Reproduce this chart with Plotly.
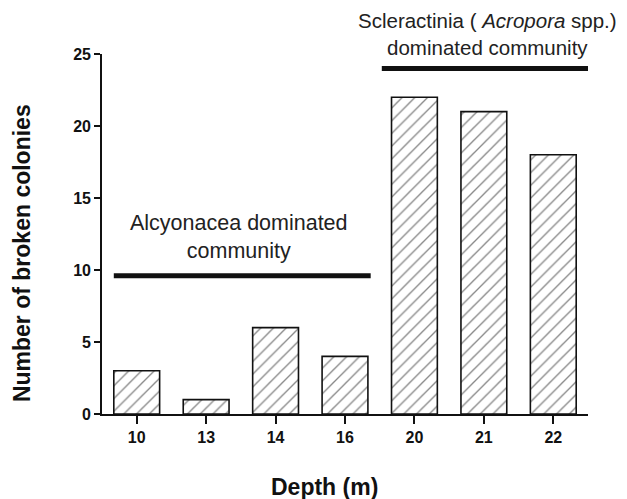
import plotly.graph_objects as go

depths = ["10", "13", "14", "16", "20", "21", "22"]
broken = [3, 1, 6, 4, 22, 21, 18]

alcy_span = [-0.33, 3.37]
alcy_level = 9.6
scler_span = [3.53, 6.62]
scler_level = 24.0

font = "Liberation Sans, Arial, Helvetica, sans-serif"

fig = go.Figure()
fig.add_trace(go.Bar(
    x=depths, y=broken, width=0.66,
    marker=dict(color="white",
                line=dict(color="#111", width=1.6),
                pattern=dict(shape="/", fgcolor="#111", bgcolor="white", size=9, solidity=0.15)),
    showlegend=False,
))

fig.add_shape(type="line", xref="x", yref="y", x0=alcy_span[0], x1=alcy_span[1],
              y0=alcy_level, y1=alcy_level, line=dict(color="#111", width=5))
fig.add_shape(type="line", xref="x", yref="y", x0=scler_span[0], x1=scler_span[1],
              y0=scler_level, y1=scler_level, line=dict(color="#111", width=5))

fig.add_annotation(x=(alcy_span[0] + alcy_span[1]) / 2 - 0.05, y=alcy_level, xref="x", yref="y",
                   text="Alcyonacea dominated<br>community", showarrow=False, borderpad=0,
                   yanchor="bottom", yshift=12, font=dict(family=font, size=21.5, color="#222"))
fig.add_annotation(x=(scler_span[0] + scler_span[1]) / 2 - 0.02, y=scler_level, xref="x", yref="y",
                   text="Scleractinia ( <i>Acropora</i> spp.)<br>dominated community", showarrow=False,
                   borderpad=0, yanchor="bottom", yshift=8, font=dict(family=font, size=20.5, color="#222"))

# axis titles
fig.add_annotation(x=0.457, y=-0.203, xref="paper", yref="paper", showarrow=False,
                   text="<b>Depth (m)</b>", font=dict(family=font, size=23, color="#111"),
                   xanchor="center", yanchor="middle")
fig.add_annotation(x=-0.1646, y=0.447, xref="paper", yref="paper", showarrow=False, textangle=-90,
                   text="<b>Number of broken colonies</b>", font=dict(family=font, size=23, color="#111"),
                   xanchor="center", yanchor="middle")

fig.update_layout(
    width=627, height=499,
    margin=dict(l=94, r=47, t=46, b=93),
    paper_bgcolor="white", plot_bgcolor="white",
    font=dict(family=font, color="#111"),
    xaxis=dict(type="category", range=[-0.5, 6.5], showline=True, linecolor="#111", linewidth=1.6,
               ticks="outside", ticklen=8, tickwidth=1.5, tickcolor="#111",
               tickfont=dict(size=16, family=font, weight="bold"),
               showgrid=False, zeroline=False),
    yaxis=dict(range=[0, 25], showline=True, linecolor="#111", linewidth=1.6,
               ticks="outside", ticklen=6, tickwidth=1.5, tickcolor="#111",
               tickvals=[0, 5, 10, 15, 20, 25],
               tickfont=dict(size=16, family=font, weight="bold"),
               showgrid=False, zeroline=False),
)

fig.write_html("out.html")
